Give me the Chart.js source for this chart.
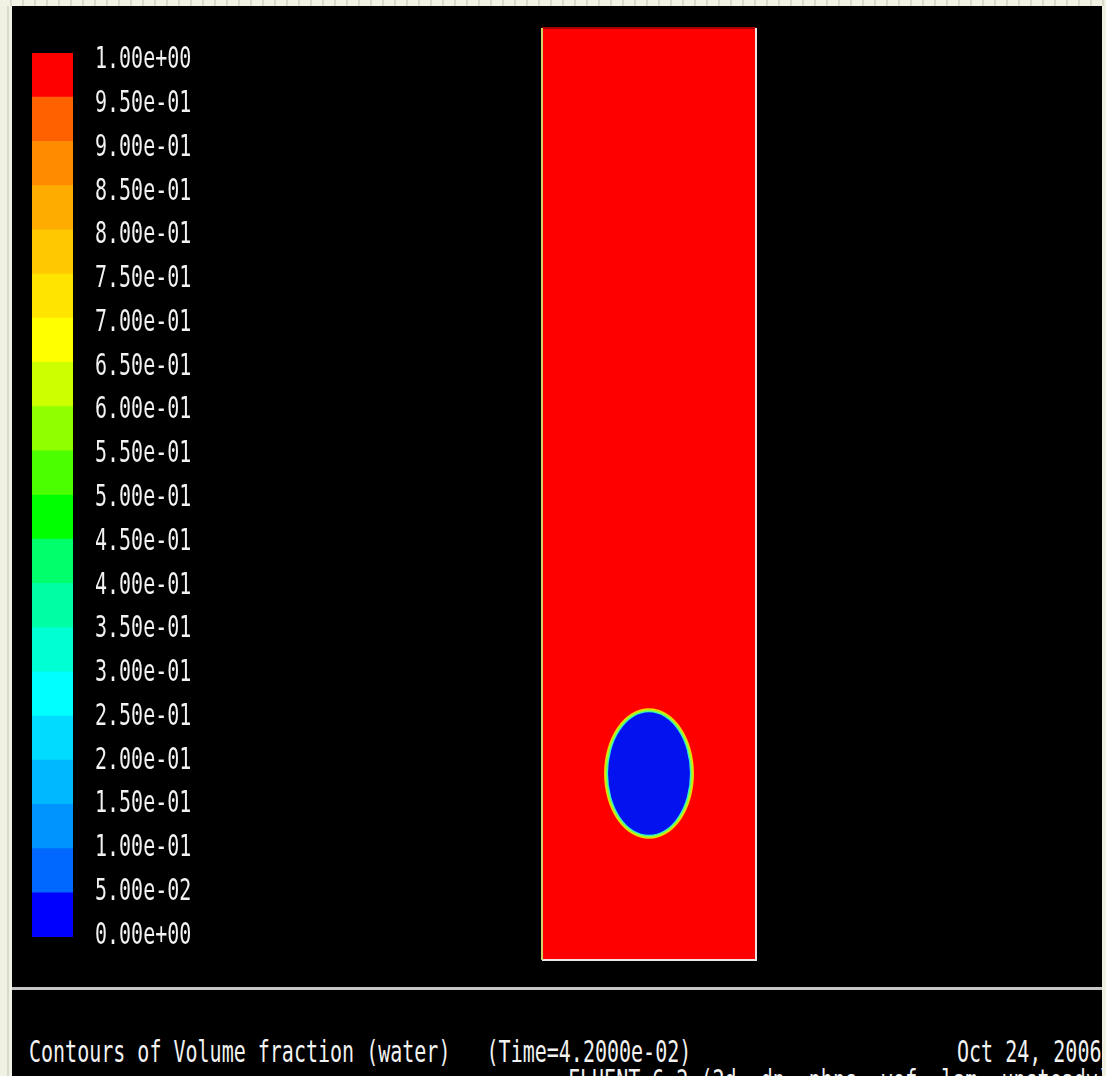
<!DOCTYPE html>
<html>
<head>
<meta charset="utf-8">
<title>Contours of Volume fraction (water)</title>
<script src="https://cdn.jsdelivr.net/npm/chart.js@4/dist/chart.umd.min.js"></script>
<style>
  html, body { margin: 0; padding: 0; }
  body {
    width: 1106px; height: 1076px; overflow: hidden; position: relative;
    background: #f1f1e3;
  }
  #topstrip {
    position: absolute; left: 0; top: 0; width: 1106px; height: 6px;
    background: repeating-linear-gradient(90deg, #f2f2e4 0 10px, #dadacc 10px 12px);
  }
  #leftline { position: absolute; left: 7px; top: 6px; width: 2px; height: 1070px; background: #d9d9cf; }
  #screen {
    position: absolute; left: 12px; top: 6px; width: 1090px; height: 1070px;
    background: #000; overflow: hidden;
  }
  #panel {
    position: absolute; left: -2px; top: 981px; width: 1100px; height: 120px;
    border-top: 3px solid #c6c6c6; border-left: 2px solid #bdbdbd;
  }
  .caption {
    position: absolute; margin: 0; white-space: pre; color: #f2f2f2;
    font: 20px/20px "DejaVu Sans Mono", monospace;
    transform: scaleY(1.5); transform-origin: 0 0;
  }
  canvas { position: absolute; left: 0; top: 0; }
</style>
</head>
<body>
<div id="topstrip"></div>
<div id="leftline"></div>
<div id="screen">
  <div id="panel"></div>
  <div class="caption" style="left:17px; top:1030px;">Contours of Volume fraction (water)   (Time=4.2000e-02)</div>
  <div class="caption" style="left:945px; top:1030px;">Oct 24, 2006</div>
  <div class="caption" style="left:556px; top:1059px;">FLUENT 6.2 (2d, dp, pbns, vof, lam, unsteady)</div>
</div>
<canvas id="domain" width="1106" height="1000"></canvas>
<canvas id="legend" width="300" height="1000"></canvas>

<script>
// Contour levels of the water volume fraction (bottom to top)
const levels = [0.00, 0.05, 0.10, 0.15, 0.20, 0.25, 0.30, 0.35, 0.40, 0.45, 0.50,
                0.55, 0.60, 0.65, 0.70, 0.75, 0.80, 0.85, 0.90, 0.95, 1.00];
const levelLabels = ['0.00e+00', '5.00e-02', '1.00e-01', '1.50e-01', '2.00e-01', '2.50e-01',
                     '3.00e-01', '3.50e-01', '4.00e-01', '4.50e-01', '5.00e-01', '5.50e-01',
                     '6.00e-01', '6.50e-01', '7.00e-01', '7.50e-01', '8.00e-01', '8.50e-01',
                     '9.00e-01', '9.50e-01', '1.00e+00'];
// One colour per band between consecutive levels
const bandColors = ['#0000ff', '#0068ff', '#0094ff', '#00b8ff', '#00dcff',
                    '#00ffff', '#00ffd2', '#00ffa4', '#00ff6a', '#00ff00',
                    '#4cff00', '#90ff00', '#ccff00', '#ffff00', '#ffe400',
                    '#ffc800', '#ffac00', '#ff8c00', '#ff6000', '#ff0000'];

// Tank geometry (width x height) and the air bubble inside it
const tankX = [0, 1];
const tankY = [0, 3];
const waterFraction = 1.0;
const bubbleCenter = [0.5, 0.6];
const bubbleRadius = 0.21;
const bubbleFraction = 0.0;

function colorFor(v) {
  for (let i = 0; i < bandColors.length; i++) {
    if (v <= levels[i + 1]) return bandColors[i];
  }
  return bandColors[bandColors.length - 1];
}

// Draws text stretched vertically like the solver's stroke font
function tallText(ctx, text, x, baseline) {
  ctx.save();
  ctx.translate(x, baseline);
  ctx.scale(1, 1.5);
  ctx.fillText(text, 0, 0);
  ctx.restore();
}

// ---------- colour legend ----------
const levelLabelPlugin = {
  id: 'levelLabels',
  afterDraw(chart) {
    const ys = chart.scales.y;
    const ctx = chart.ctx;
    const mid = (chart.chartArea.top + chart.chartArea.bottom) / 2;
    ctx.save();
    ctx.fillStyle = '#f2f2f2';
    ctx.font = '20px "DejaVu Sans Mono"';
    ctx.textBaseline = 'alphabetic';
    ctx.textAlign = 'left';
    const x0 = chart.chartArea.right + 22;
    levels.forEach((v, i) => {
      const py = ys.getPixelForValue(v);
      const yc = mid + (py - mid) * 0.99;
      tallText(ctx, levelLabels[i], x0, yc + 11);
    });
    ctx.restore();
  }
};

new Chart(document.getElementById('legend'), {
  type: 'bar',
  data: {
    labels: [''],
    datasets: bandColors.map((c, i) => ({
      data: [[levels[i], levels[i + 1]]],
      backgroundColor: c,
      borderWidth: 0,
      grouped: false,
      barPercentage: 1,
      categoryPercentage: 1
    }))
  },
  options: {
    responsive: false,
    devicePixelRatio: 1,
    animation: false,
    layout: { padding: { left: 32, right: 227, top: 53, bottom: 63 } },
    plugins: { legend: { display: false }, tooltip: { enabled: false }, title: { display: false } },
    scales: {
      x: { display: false },
      y: { display: false, min: 0, max: 1 }
    }
  },
  plugins: [levelLabelPlugin]
});

// ---------- tank contour ----------
const bubblePlugin = {
  id: 'bubble',
  afterDatasetsDraw(chart) {
    const xs = chart.scales.x, ys = chart.scales.y;
    const ctx = chart.ctx;
    const cx = xs.getPixelForValue(bubbleCenter[0]);
    const cy = ys.getPixelForValue(bubbleCenter[1]);
    const rx = Math.abs(xs.getPixelForValue(bubbleCenter[0] + bubbleRadius) - cx);
    const ry = Math.abs(ys.getPixelForValue(bubbleCenter[1] + bubbleRadius) - cy);
    // interface smearing: thin rim of intermediate fractions
    const rim = [[0, '#f0d800'], [1.4, '#90ff30'], [2.8, '#30f0d0'], [4.0, colorFor(bubbleFraction)]];
    ctx.save();
    rim.forEach(([d, col]) => {
      ctx.beginPath();
      ctx.ellipse(cx, cy, rx - d, ry - d, 0, 0, Math.PI * 2);
      ctx.fillStyle = col === '#0000ff' ? '#0512f0' : col;
      ctx.fill();
    });
    ctx.restore();
  }
};

new Chart(document.getElementById('domain'), {
  type: 'line',
  data: {
    datasets: [
      {
        // water column
        data: [{ x: tankX[0], y: tankY[1] }, { x: tankX[1], y: tankY[1] }],
        fill: 'origin',
        backgroundColor: colorFor(waterFraction),
        borderColor: '#a80000',
        borderWidth: 2,
        pointRadius: 0,
        order: 3,
        clip: false
      },
      {
        // left wall
        data: [{ x: tankX[0], y: tankY[1] }, { x: tankX[0], y: tankY[0] }],
        borderColor: '#d2d26a',
        borderWidth: 2,
        pointRadius: 0,
        fill: false,
        order: 1,
        clip: false
      },
      {
        // bottom and right walls
        data: [{ x: tankX[0], y: tankY[0] }, { x: tankX[1], y: tankY[0] }, { x: tankX[1], y: tankY[1] }],
        borderColor: '#ece6e6',
        borderWidth: 2,
        pointRadius: 0,
        fill: false,
        order: 1,
        clip: false
      }
    ]
  },
  options: {
    responsive: false,
    devicePixelRatio: 1,
    animation: false,
    layout: { padding: { left: 542, right: 350, top: 28, bottom: 40 } },
    plugins: { legend: { display: false }, tooltip: { enabled: false }, title: { display: false } },
    scales: {
      x: { type: 'linear', display: false, min: tankX[0], max: tankX[1] },
      y: { type: 'linear', display: false, min: tankY[0], max: tankY[1] }
    }
  },
  plugins: [bubblePlugin]
});
</script>
</body>
</html>
